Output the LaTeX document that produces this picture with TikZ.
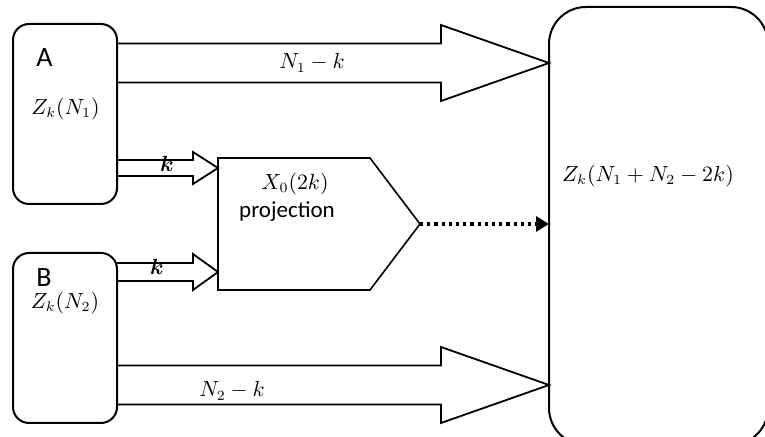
\documentclass[tikz,border=0pt]{standalone}
\usepackage[no-math]{fontspec}
\setmainfont{Carlito}
\usepackage{bm}
\usepackage{tikz}
\usetikzlibrary{arrows.meta,calc,positioning}

% wide block arrow: start, tip, shaft half width, head half width, head length
\newcommand{\fatarrow}[5]{%
  \draw[line width=0.9pt, line join=miter] ($(#1)+(0,-#3)$) -- ($(#2)+(-#5,-#3)$) -- ($(#2)+(-#5,-#4)$) -- (#2)
    -- ($(#2)+(-#5,#4)$) -- ($(#2)+(-#5,#3)$) -- ($(#1)+(0,#3)$);}

\begin{document}
\begin{tikzpicture}[
            x=0.5pt, y=-0.5pt,
            every node/.style={font=\fontsize{10.5}{12}\selectfont},
            box/.style={draw, line width=1pt, rounded corners=8pt, inner sep=0pt, outer sep=0pt, minimum width=52pt},
            letter/.style={font=\fontsize{14}{16}\selectfont},
        ]
            \useasboundingbox (0,0) rectangle (765,437);

            \node[box, minimum height=90pt] (A) at (65,114) {};
            \node[box, minimum height=85pt] (B) at (65,338) {};
            \node[box, minimum width=109.5pt, minimum height=219pt, rounded corners=18.5pt] (C) at (658.5,226) {};
            \node[inner sep=0pt, outer sep=0pt, minimum width=101pt, minimum height=66pt] (proj) at (319,224) {};
            \draw[line width=0.8pt, line join=miter] (proj.north west) -- ($(proj.north east)+(-50,0)$) -- (proj.east)
                -- ($(proj.south east)+(-50,0)$) -- (proj.south west) -- cycle;

            \coordinate (a1) at (A.east |- 0,63);
            \coordinate (c1) at (C.west |- 0,63);
            \coordinate (b2) at (B.east |- 0,385);
            \coordinate (c2) at (C.west |- 0,385);
            \coordinate (ak) at (A.east |- 0,168);
            \coordinate (pk1) at (proj.west |- 0,168);
            \coordinate (bk) at (B.east |- 0,272);
            \coordinate (pk2) at (proj.west |- 0,272);

            \fatarrow{a1}{c1}{19.5}{38}{108}
            \fatarrow{b2}{c2}{19.5}{38}{108}
            \fatarrow{ak}{pk1}{8}{16}{25}
            \fatarrow{bk}{pk2}{9}{18}{25}
            \draw[line width=1.6pt, dash pattern=on 1.6pt off 2pt, -{Triangle[length=6.5pt,width=7.5pt]}] (proj.east) -- (C.west |- proj.east);

            \node[letter] (Alab) at (44.5,58) {A};
            \node (Az) at (65.5,109) {$Z_k(N_1)$};
            \node[letter] (Blab) at (44,278) {B};
            \node (Bz) at (65,303) {$Z_k(N_2)$};
            \node (n1k) at (312,63) {$N_1-k$};
            \node (n2k) at (232,391) {$N_2-k$};
            \node (k1) at (167,164) {$\bm{k}$};
            \node (k2) at (157,267) {$\bm{k}$};
            \node (x0) at (295,184) {$X_0(2k)$};
            \node[font=\fontsize{11.5}{13}\selectfont] (projl) at (287,212) {projection};
            \node (cz) at (648,176) {$Z_k(N_1+N_2-2k)$};
        \end{tikzpicture}
\end{document}
